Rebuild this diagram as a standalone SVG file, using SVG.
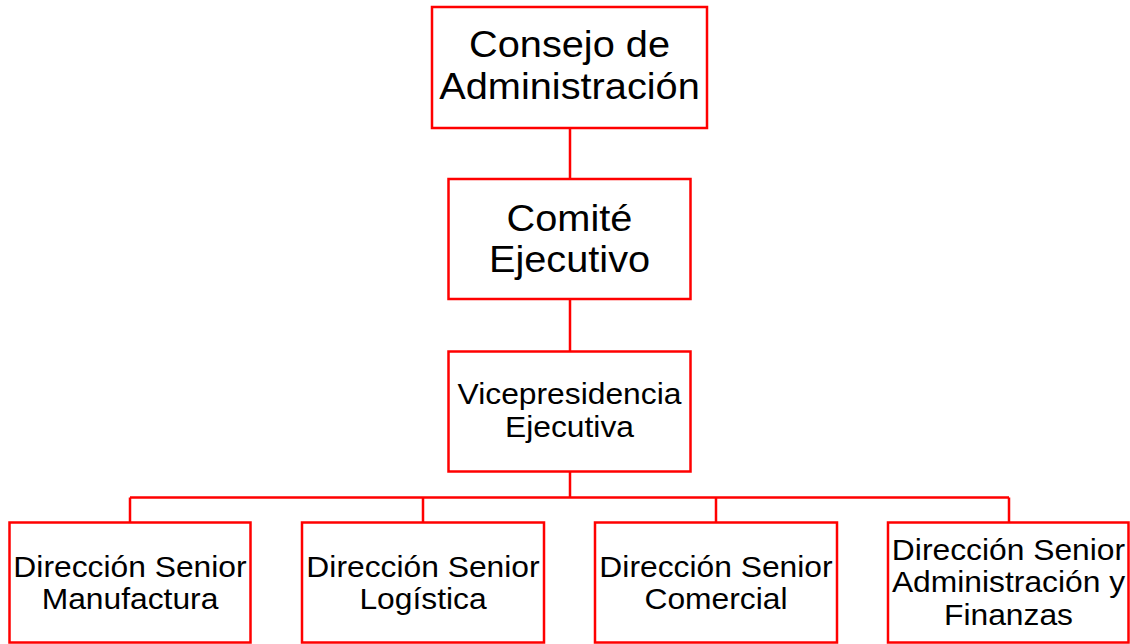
<svg xmlns="http://www.w3.org/2000/svg" width="1130" height="644" viewBox="0 0 1130 644">
<style>
.box{fill:#ffffff;stroke:#ff0000;stroke-width:2.5}
.conn{fill:none;stroke:#ff0000;stroke-width:2.5}
.t{font-family:"Liberation Sans",Arial,sans-serif;fill:#000000;text-anchor:middle}
.big{font-size:37.5px}
.sm{font-size:30px}
</style>
<rect width="1130" height="644" fill="#ffffff"/>
<g id="connectors">
<path class="conn" d="M570 128V179M570 299V351.5M570 471.5V497.5M130 497.5H1009M130 497.5V522.5M423 497.5V522.5M716 497.5V522.5M1009 497.5V522.5"/>
</g>
<g id="consejo">
<rect class="box" x="432" y="7" width="275" height="121"/>
<text class="t big" transform="translate(569.5,0) scale(1.06,1)"><tspan x="0" y="57.5">Consejo de</tspan><tspan x="0" y="99.5">Administración</tspan></text>
</g>
<g id="comite">
<rect class="box" x="448.5" y="179" width="242" height="120"/>
<text class="t big" transform="translate(569.5,0) scale(1.06,1)"><tspan x="0" y="231">Comité</tspan><tspan x="0" y="272">Ejecutivo</tspan></text>
</g>
<g id="vicepresidencia">
<rect class="box" x="448.5" y="351.5" width="242" height="120"/>
<text class="t sm" transform="translate(569.5,0) scale(1.06,1)"><tspan x="0" y="404">Vicepresidencia</tspan><tspan x="0" y="437">Ejecutiva</tspan></text>
</g>
<g id="manufactura">
<rect class="box" x="9.5" y="522.5" width="241" height="120"/>
<text class="t sm" transform="translate(130,0) scale(1.06,1)"><tspan x="0" y="577">Dirección Senior</tspan><tspan x="0" y="609.5">Manufactura</tspan></text>
</g>
<g id="logistica">
<rect class="box" x="302" y="522.5" width="242" height="120"/>
<text class="t sm" transform="translate(423,0) scale(1.06,1)"><tspan x="0" y="577">Dirección Senior</tspan><tspan x="0" y="609.5">Logística</tspan></text>
</g>
<g id="comercial">
<rect class="box" x="595" y="522.5" width="242" height="120"/>
<text class="t sm" transform="translate(716,0) scale(1.06,1)"><tspan x="0" y="577">Dirección Senior</tspan><tspan x="0" y="609.5">Comercial</tspan></text>
</g>
<g id="administracion-finanzas">
<rect class="box" x="888" y="522.5" width="240.5" height="120"/>
<text class="t sm" transform="translate(1008.5,0) scale(1.06,1)"><tspan x="0" y="560">Dirección Senior</tspan><tspan x="0" y="592">Administración y</tspan><tspan x="0" y="625">Finanzas</tspan></text>
</g>
</svg>
